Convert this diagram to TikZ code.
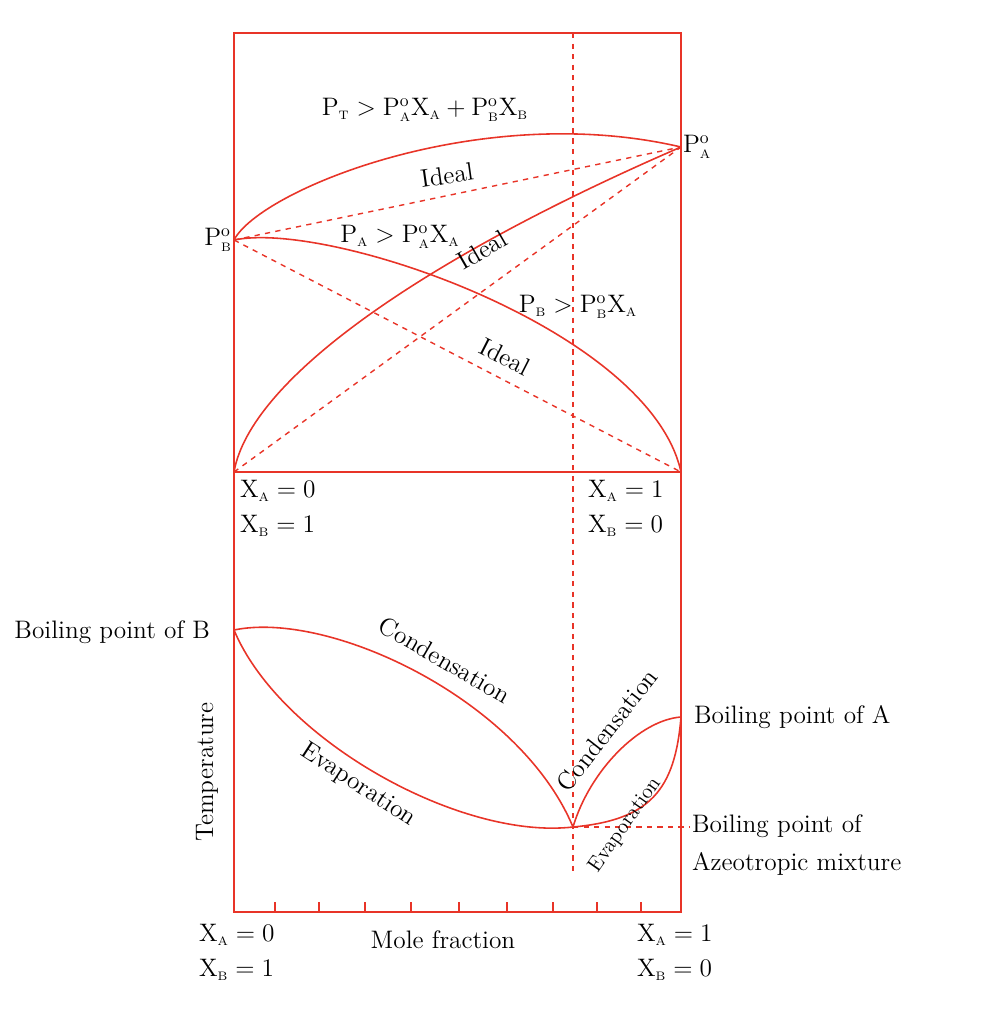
\documentclass[tikz,border=0pt]{standalone}
\usetikzlibrary{calc}
\definecolor{lred}{RGB}{232,52,40}
\tikzset{
  curve/.style={draw=lred,line width=0.9pt},
  ideal/.style={draw=lred,dashed,line width=0.8pt},
  lbl/.style={font=\Large,inner sep=1pt}
}
\newcommand{\Po}[1]{\mathrm{P}^{\mathrm{o}}_{\scriptscriptstyle\mathrm{#1}}}
\newcommand{\Xs}[1]{\mathrm{X}_{\scriptscriptstyle\mathrm{#1}}}
\begin{document}
\begin{tikzpicture}[x=0.02cm,y=-0.02cm]
\useasboundingbox (0,0) rectangle (986,1036);
% frame
\coordinate (tl) at (234,33);  \coordinate (tr) at (681,33);
\coordinate (ml) at (234,472); \coordinate (mr) at (681,472);
\coordinate (bl) at (234,912); \coordinate (br) at (681,912);
\coordinate (pa) at (681,147); \coordinate (pb) at (234,240);
\coordinate (az) at (573,827); \coordinate (bb) at (234,630);
\coordinate (ba) at (681,717);
\draw[curve] (tl) rectangle (br);
\draw[curve] (ml) -- (mr);
\draw[ideal] (573,33) -- (573,875);
\foreach \x in {275,319,365,411,459,507,553,597,641}
  \draw[curve] (\x,912) -- (\x,902);
% ideal lines
\draw[ideal] (pb) -- (pa);
\draw[ideal] (ml) -- (pa);
\draw[ideal] (pb) -- (mr);
% real curves
\draw[curve] (pb) .. controls (260,190) and (480,100) .. (pa);
\draw[curve] (ml) .. controls (250,380) and (420,260) .. (pa);
\draw[curve] (pb) .. controls (330,220) and (650,330) .. (mr);
% lower diagram
\draw[curve] (bb) .. controls (330,610) and (520,700) .. (az);
\draw[curve] (bb) .. controls (280,740) and (460,840) .. (az);
\draw[curve] (az) .. controls (590,770) and (640,720) .. (ba);
\draw[curve] (az) .. controls (650,820) and (675,790) .. (ba);
\draw[ideal] (az) -- (690,827);
% labels
\node[lbl,anchor=east] (lpb) at (pb) {$\Po{B}$};
\node[lbl,anchor=west] (lpa) at (pa) {$\Po{A}$};
\node[lbl] (lpt) at (425,110) {$\mathrm{P}_{\scriptscriptstyle\mathrm{T}} > \Po{A}\Xs{A} + \Po{B}\Xs{B}$};
\node[lbl,rotate=8] (i1) at (447,175) {Ideal};
\node[lbl] (lpa2) at (400,237) {$\mathrm{P}_{\scriptscriptstyle\mathrm{A}} > \Po{A}\Xs{A}$};
\node[lbl,rotate=30] (i2) at (482,250) {Ideal};
\node[lbl] (lpb2) at (578,307) {$\mathrm{P}_{\scriptscriptstyle\mathrm{B}} > \Po{B}\Xs{A}$};
\node[lbl,rotate=-27] (i3) at (505,357) {Ideal};
\node[lbl,anchor=north west,align=left] (x1) at (238,478) {$\Xs{A} = 0$\\[2pt]$\Xs{B} = 1$};
\node[lbl,anchor=north west,align=left] (x2) at (586,478) {$\Xs{A} = 1$\\[2pt]$\Xs{B} = 0$};
\node[lbl,anchor=east] (lbb) at (212,632) {Boiling point of B};
\node[lbl,anchor=west] (lba) at (692,717) {Boiling point of A};
\node[lbl,anchor=west,align=left] (laz) at (690,845) {Boiling point of\\[4pt]Azeotropic mixture};
\node[lbl,rotate=-30] (c1) at (445,660) {Condensation};
\node[lbl,rotate=-33] (e1) at (358,785) {Evaporation};
\node[lbl,rotate=52] (c2) at (607,730) {Condensation};
\node[lbl,rotate=55,font=\large] (e2) at (625,825) {Evaporation};
\node[lbl,rotate=90] (tmp) at (207,772) {Temperature};
\node[lbl] (mf) at (443,940) {Mole fraction};
\node[lbl,anchor=north west,align=left] (x3) at (197,922) {$\Xs{A} = 0$\\[2pt]$\Xs{B} = 1$};
\node[lbl,anchor=north west,align=left] (x4) at (635,922) {$\Xs{A} = 1$\\[2pt]$\Xs{B} = 0$};
\end{tikzpicture}
\end{document}
